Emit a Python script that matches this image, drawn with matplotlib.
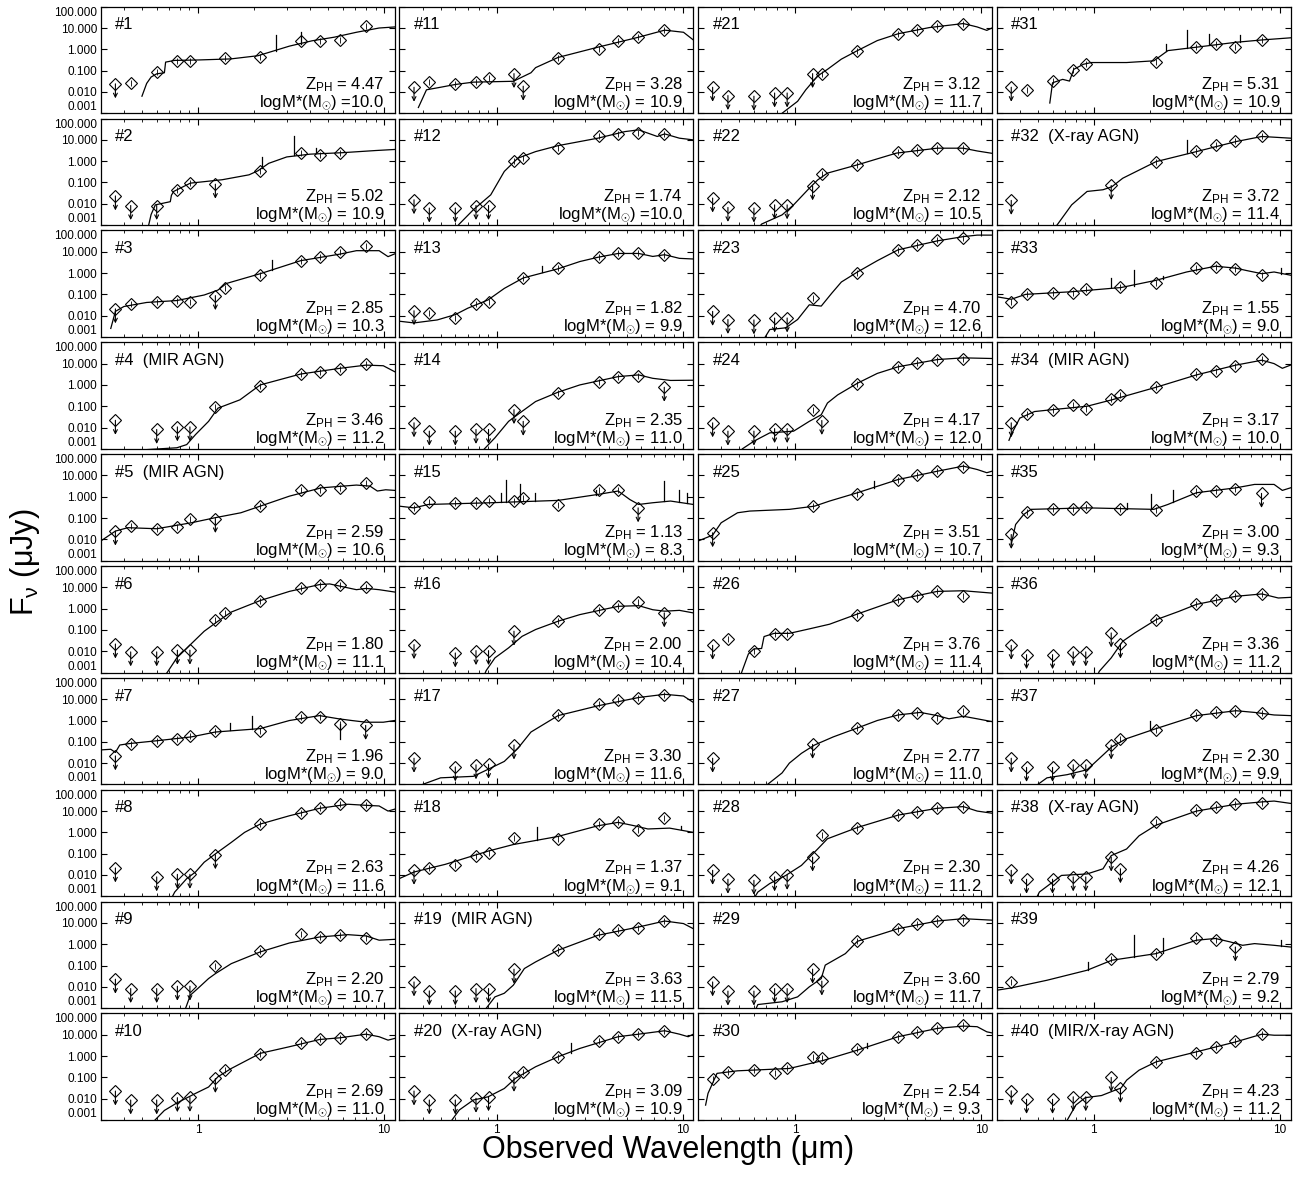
import numpy as np
import matplotlib
matplotlib.use("Agg")
import matplotlib.pyplot as plt
from matplotlib.ticker import NullFormatter, LogLocator

plt.rcParams.update({"font.family": ["Liberation Sans", "DejaVu Sans"], "mathtext.fontset": "custom",
    "mathtext.rm": "Liberation Sans", "mathtext.it": "Liberation Sans:italic",
    "mathtext.bf": "Liberation Sans:bold", "axes.linewidth": 0.9})

# filter wavelengths (micron): U, F435W, F606W, F775W, F850LP, F125W, F140W, Ks, IRAC 1-4
FILT_WL = [0.36, 0.435, 0.60, 0.775, 0.905, 1.24, 1.39, 2.15, 3.56, 4.51, 5.76, 7.96]
N = None

# log10 flux (uJy) per filter, panels #1..#40
PHOT_LOGF = [
    [-1.62, -1.57, -1.06, -0.54, -0.54, N, -0.43, -0.35, 0.41, 0.38, 0.44, 1.10],
    [-1.63, -2.08, -2.08, -1.34, -1.03, -1.08, N, -0.44, 0.37, 0.30, 0.37, N],
    [-1.68, -1.46, -1.38, -1.29, -1.38, -1.06, -0.68, -0.08, 0.55, 0.77, 0.97, 1.25],
    [-1.66, N, -2.09, -1.97, -1.97, -1.04, N, -0.03, 0.50, 0.59, 0.74, 0.96],
    [-1.61, -1.38, -1.53, -1.42, -1.06, -1.02, N, -0.44, 0.31, 0.34, 0.39, 0.66],
    [-1.66, -2.03, -2.03, -1.95, -1.95, -0.52, -0.20, 0.34, 0.97, 1.09, 1.09, 1.02],
    [-1.66, -1.08, -0.95, -0.88, -0.72, -0.49, N, -0.51, 0.18, 0.18, -0.15, -0.23],
    [-1.67, N, -2.09, -1.97, -1.97, -1.05, N, 0.39, 0.93, 1.13, 1.32, 1.27],
    [-1.64, -2.08, -2.08, -1.97, -1.97, -1.03, N, -0.33, 0.47, 0.34, 0.42, 0.31],
    [-1.64, -2.06, -2.06, -1.95, -1.94, -1.05, -0.63, 0.09, 0.63, 0.80, 0.86, 1.02],
    [-1.78, -1.54, -1.65, -1.54, -1.33, -1.14, -1.73, -0.41, 0.00, 0.41, 0.60, 0.92],
    [-1.81, -2.20, -2.20, -2.08, -2.08, 0.03, 0.14, 0.61, 1.16, 1.28, 1.34, 1.28],
    [-1.77, -1.88, -2.11, -1.45, -1.34, N, -0.23, 0.23, 0.77, 0.92, 0.92, 0.86],
    [-1.78, -2.17, -2.17, -2.09, -2.09, -1.16, -1.71, -0.36, 0.16, 0.36, 0.43, -0.11],
    [-0.52, -0.25, -0.28, -0.28, -0.20, -0.20, -0.05, -0.39, 0.31, 0.34, -0.52, N],
    [-1.69, N, -2.08, -1.97, -1.97, -1.06, N, -0.59, -0.08, 0.11, 0.31, -0.20],
    [-1.77, N, -2.18, -2.08, -2.05, -1.15, N, 0.28, 0.77, 0.95, 1.08, 1.20],
    [-1.78, -1.66, -1.52, -1.13, -0.98, -0.26, N, -0.31, 0.39, 0.47, 0.11, 0.67],
    [-1.77, -2.19, -2.19, -2.08, -2.08, -1.17, N, -0.25, 0.47, 0.66, 0.78, 1.09],
    [-1.64, -2.06, -2.06, -1.98, -1.91, -1.00, -0.73, -0.06, 0.70, 0.91, 1.06, 1.19],
    [-1.78, -2.17, -2.20, -2.05, -2.05, -1.14, -1.17, -0.06, 0.70, 0.89, 1.08, 1.21],
    [-1.73, -2.17, -2.20, -2.05, -2.05, -1.16, -0.61, -0.17, 0.41, 0.53, 0.61, 0.61],
    [-1.80, -2.18, -2.20, -2.11, -2.11, -1.18, N, 0.00, 1.09, 1.32, 1.54, 1.66],
    [-1.78, -2.17, -2.17, -2.05, -2.05, -1.16, -1.67, 0.05, 0.85, 1.01, 1.16, 1.21],
    [-1.69, N, N, N, N, -0.44, N, 0.14, 0.81, 1.00, 1.20, 1.39],
    [-1.72, -1.42, -2.00, -1.17, -1.17, N, N, -0.28, 0.42, 0.58, 0.81, 0.58],
    [-1.77, N, N, N, N, -1.12, N, -0.35, 0.26, 0.35, 0.12, 0.46],
    [-1.78, -2.20, -2.25, -2.09, -2.02, -1.16, -0.12, 0.20, 0.82, 0.96, 1.16, 1.21],
    [-1.77, -2.20, -2.20, -2.08, -2.08, -1.17, -1.73, 0.14, 0.73, 0.94, 1.09, 1.16],
    [-1.08, -0.73, -0.63, -0.77, -0.58, -0.03, -0.11, 0.33, 0.91, 1.11, 1.33, 1.48],
    [-1.78, -1.89, -1.49, -0.98, -0.70, N, N, -0.59, 0.13, 0.25, 0.10, 0.44],
    [-1.84, N, N, N, N, -1.14, N, -0.02, 0.48, 0.77, 0.95, 1.20],
    [-1.34, -1.00, -0.92, -0.92, -0.77, N, -0.65, -0.46, 0.25, 0.28, 0.17, -0.08],
    [-1.78, -1.36, -1.16, -0.96, -1.12, -0.65, -0.47, -0.11, 0.50, 0.65, 0.90, 1.21],
    [-1.77, -0.70, -0.59, -0.55, -0.47, N, -0.59, -0.64, 0.27, 0.27, 0.38, 0.16],
    [-1.72, -2.16, -2.16, -2.03, -2.03, -1.14, -1.66, -0.52, 0.23, 0.42, 0.61, 0.69],
    [-1.77, -2.20, -2.20, -2.08, -2.08, -1.15, -0.88, -0.46, 0.26, 0.38, 0.43, 0.35],
    [-1.78, -2.20, -2.20, -2.09, -2.09, -1.16, -1.71, 0.47, 1.04, 1.21, 1.32, 1.36],
    [-1.77, N, N, N, N, -0.67, N, -0.48, 0.27, 0.22, -0.13, N],
    [-1.63, -2.03, -2.03, -1.91, -1.91, -1.00, -1.52, -0.27, 0.16, 0.44, 0.72, 1.06],
]

# filter indices that are upper limits
UPLIM = [
    [0], [0, 1, 2, 5], [0, 5], [0, 2, 3, 4], [0, 5], [0, 1, 2, 3, 4], [0, 11], [0, 2, 3, 4, 5],
    [0, 1, 2, 3, 4], [0, 1, 2, 3, 4, 5],
    [0, 5, 6], [0, 1, 2, 3, 4], [0], [0, 1, 2, 3, 4, 5, 6, 11], [10], [0, 2, 3, 4, 5, 11],
    [0, 2, 3, 4, 5], [0], [0, 1, 2, 3, 4, 5], [0, 1, 2, 3, 4, 5],
    [0, 1, 2, 3, 4, 5], [0, 1, 2, 3, 4, 5], [0, 1, 2, 3, 4], [0, 1, 2, 3, 4, 6], [0], [0],
    [0, 5], [0, 1, 2, 3, 4, 5], [0, 1, 2, 3, 4, 5, 6], [],
    [0], [0, 5], [], [0], [0, 11], [0, 1, 2, 3, 4, 5, 6], [0, 1, 2, 3, 4, 5],
    [0, 1, 2, 3, 4, 5, 6], [10], [0, 1, 2, 3, 4, 5, 6],
]

# large error bars: (panel, filter index, log10 lower end)
BIG_ERR = [(7, 10, -0.85)]

# best-fit SED, wavelength (micron) and log10 flux (uJy)
SED_WL = [
    [0.50, 0.53, 0.56, 0.60, 0.66, 0.67, 0.75, 1.0, 1.5, 2.1, 3.1, 4.1, 5.4, 7.1, 9.4, 11.4],
    [0.54, 0.56, 0.59, 0.71, 0.72, 0.74, 0.91, 1.35, 1.88, 2.1, 2.4, 3.0, 4.0, 6.0, 9.0, 11.4],
    [0.34, 0.36, 0.40, 0.53, 0.77, 1.08, 1.28, 1.42, 2.16, 3.56, 5.8, 7.1, 9.4, 10.5, 11.4],
    [0.50, 0.77, 0.87, 0.97, 1.14, 1.28, 1.68, 2.16, 3.56, 5.8, 8.0, 9.9, 11.4],
    [0.30, 0.36, 0.42, 0.60, 0.92, 1.24, 1.7, 2.16, 3.1, 4.6, 7.1, 8.4, 9.2, 10.2, 11.4],
    [0.67, 0.69, 0.77, 0.91, 1.08, 1.28, 1.51, 2.16, 3.1, 4.5, 5.1, 7.1, 8.0, 9.4, 11.4],
    [0.30, 0.34, 0.36, 0.38, 0.43, 0.60, 0.92, 1.24, 2.16, 3.1, 4.5, 5.7, 6.7, 8.0, 9.9, 11.4],
    [0.72, 0.75, 0.87, 0.97, 1.08, 1.24, 1.51, 1.78, 2.16, 3.1, 4.5, 6.4, 8.0, 9.4, 10.5, 11.4],
    [0.85, 0.86, 0.91, 1.02, 1.14, 1.24, 1.51, 2.16, 3.1, 4.5, 6.4, 8.0, 9.4, 11.4],
    [0.58, 0.66, 0.77, 0.97, 1.14, 1.28, 1.51, 2.16, 3.1, 4.5, 5.8, 8.0, 9.4, 10.5, 11.4],
    [0.38, 0.42, 0.50, 0.60, 0.75, 1.23, 1.53, 1.62, 2.14, 3.5, 5.8, 8.0, 10.1, 11.4],
    [0.61, 0.63, 0.75, 0.93, 1.1, 1.3, 1.62, 2.14, 3.5, 4.9, 5.8, 7.3, 8.0, 9.6, 11.4],
    [0.30, 0.36, 0.48, 0.60, 0.70, 0.90, 1.1, 1.39, 2.14, 2.8, 3.5, 4.5, 5.8, 6.9, 8.0, 9.6, 11.4],
    [0.84, 0.86, 0.98, 1.16, 1.37, 1.62, 2.14, 2.8, 4.5, 5.8, 6.9, 8.6, 11.4],
    [0.30, 0.36, 0.43, 0.93, 2.14, 3.5, 4.5, 5.2, 5.8, 6.9, 8.6, 11.4],
    [0.86, 0.88, 0.98, 1.16, 1.37, 1.62, 2.14, 2.8, 4.5, 5.8, 6.9, 8.0, 9.6, 11.4],
    [0.38, 0.40, 0.50, 0.75, 0.93, 1.1, 1.3, 1.53, 2.14, 3.5, 5.8, 8.0, 10.1, 11.4],
    [0.30, 0.36, 0.53, 0.90, 1.23, 2.14, 3.5, 4.5, 5.5, 6.5, 8.5, 11.4],
    [0.86, 0.88, 0.98, 1.1, 1.23, 1.41, 1.62, 2.14, 3.5, 5.8, 8.0, 10.1, 11.4],
    [0.57, 0.63, 0.75, 0.90, 1.1, 1.26, 1.62, 2.14, 2.8, 4.5, 5.8, 8.0, 9.6, 10.7, 11.4],
    [0.83, 0.85, 1.03, 1.14, 1.32, 1.49, 1.77, 2.16, 2.76, 3.57, 5.25, 8.0, 9.5, 10.7, 11.4],
    [0.64, 0.66, 0.85, 0.98, 1.19, 1.32, 1.49, 2.16, 3.5, 5.8, 8.0, 9.5, 11.4],
    [0.68, 0.69, 0.73, 0.89, 1.03, 1.19, 1.38, 1.57, 1.77, 2.16, 2.76, 3.57, 5.8, 8.0, 9.5, 11.4],
    [0.51, 0.52, 0.60, 0.73, 0.98, 1.19, 1.38, 1.49, 1.69, 2.16, 2.76, 3.57, 5.8, 8.0, 11.4],
    [0.30, 0.36, 0.40, 0.49, 0.57, 0.93, 1.27, 1.53, 2.16, 3.57, 5.8, 8.0, 9.5, 10.7, 11.4],
    [0.51, 0.52, 0.56, 0.60, 0.66, 0.68, 0.77, 0.93, 1.19, 1.53, 2.16, 3.57, 5.8, 8.0, 11.4],
    [0.69, 0.71, 0.85, 0.93, 1.08, 1.27, 1.6, 2.16, 2.76, 3.57, 4.7, 5.8, 6.7, 8.0, 9.5, 11.4],
    [0.60, 0.63, 0.73, 0.89, 1.08, 1.32, 1.49, 2.16, 3.57, 5.8, 8.0, 9.5, 11.4],
    [0.60, 0.61, 0.63, 0.85, 1.03, 1.19, 1.38, 1.45, 1.86, 2.16, 2.76, 3.57, 5.8, 8.0, 11.4],
    [0.33, 0.34, 0.38, 0.49, 0.93, 1.42, 2.16, 3.57, 5.8, 8.0, 9.5, 10.7, 11.4],
    [0.58, 0.60, 0.68, 0.74, 0.78, 0.88, 0.97, 1.5, 2.1, 2.5, 3.56, 5.8, 8.0, 11.4],
    [0.62, 0.64, 0.76, 0.92, 1.12, 1.25, 1.43, 2.16, 3.56, 5.8, 8.0, 11.4],
    [0.30, 0.36, 0.43, 0.75, 1.4, 2.16, 3.15, 4.5, 5.8, 6.6, 8.0, 9.3, 11.4],
    [0.35, 0.36, 0.40, 0.48, 0.60, 0.92, 1.25, 2.16, 3.56, 5.8, 8.0, 9.3, 10.3, 11.4],
    [0.36, 0.38, 0.42, 0.46, 0.92, 2.1, 2.5, 3.56, 5.8, 7.3, 9.3, 10.3, 11.4],
    [1.05, 1.07, 1.24, 1.43, 1.66, 2.16, 2.86, 3.56, 5.8, 8.0, 9.8, 11.4],
    [0.48, 0.50, 0.56, 0.72, 0.92, 1.12, 1.25, 1.5, 2.16, 3.56, 5.8, 7.3, 9.3, 11.4],
    [0.49, 0.51, 0.67, 0.92, 1.12, 1.24, 1.5, 1.75, 2.16, 3.56, 5.8, 8.0, 9.3, 11.4],
    [0.30, 0.36, 0.56, 0.92, 1.25, 2.16, 3.56, 4.5, 5.4, 6.3, 7.3, 9.3, 11.4],
    [0.70, 0.72, 0.80, 0.90, 1.1, 1.3, 1.4, 1.5, 1.75, 2.16, 3.56, 5.8, 8.0, 9.3, 11.4],
]
SED_LOGF = [
    [-2.2, -1.6, -1.3, -1.15, -1.1, -0.6, -0.52, -0.5, -0.45, -0.3, 0.15, 0.4, 0.57, 0.8, 1.0, 1.05],
    [-3.1, -2.5, -2.05, -1.9, -1.6, -1.42, -1.03, -0.87, -0.64, -0.45, -0.1, 0.2, 0.33, 0.4, 0.5, 0.55],
    [-2.6, -1.8, -1.57, -1.38, -1.29, -1.03, -0.8, -0.49, -0.03, 0.58, 0.89, 1.05, 1.05, 0.77, 0.9],
    [-3.05, -2.95, -2.8, -2.33, -1.71, -1.09, -0.7, 0.0, 0.51, 0.78, 0.93, 0.9, 0.62],
    [-2.08, -1.61, -1.45, -1.5, -1.22, -0.98, -0.75, -0.44, 0.03, 0.42, 0.55, 0.5, 0.27, 0.33, 0.3],
    [-3.1, -2.94, -2.31, -1.69, -1.06, -0.59, -0.16, 0.38, 0.81, 1.13, 1.16, 0.89, 0.95, 0.89, 0.78],
    [-1.38, -1.35, -1.5, -1.15, -1.08, -0.95, -0.77, -0.54, -0.38, 0.0, 0.23, 0.08, 0.0, -0.08, -0.08, 0.0],
    [-3.1, -2.8, -2.17, -1.86, -1.4, -1.01, -0.47, 0.0, 0.39, 0.78, 1.13, 1.32, 1.27, 1.24, 1.0, 1.09],
    [-3.1, -2.98, -2.39, -2.0, -1.61, -1.38, -0.91, -0.36, 0.06, 0.34, 0.45, 0.39, 0.19, 0.23],
    [-3.05, -2.55, -2.2, -1.75, -1.45, -0.97, -0.58, 0.13, 0.44, 0.78, 0.86, 1.03, 0.91, 0.75, 0.83],
    [-2.73, -1.9, -1.78, -1.65, -1.54, -1.5, -1.1, -0.86, -0.38, 0.1, 0.57, 0.9, 0.8, 0.44],
    [-3.1, -2.95, -2.28, -1.58, -0.48, 0.14, 0.45, 0.73, 1.08, 1.39, 1.47, 1.16, 1.28, 1.08, 1.0],
    [-2.26, -2.34, -2.2, -1.95, -1.65, -1.26, -0.72, -0.23, 0.2, 0.54, 0.74, 0.92, 0.92, 0.78, 0.86, 0.69, 0.66],
    [-3.1, -3.0, -2.48, -1.71, -1.24, -0.78, -0.34, 0.0, 0.39, 0.47, 0.31, 0.21, 0.22],
    [-0.44, -0.52, -0.36, -0.28, -0.17, 0.11, 0.27, -0.13, -0.36, -0.28, -0.2, -0.36],
    [-3.1, -2.9, -2.31, -1.84, -1.3, -0.98, -0.59, -0.28, 0.11, 0.14, -0.05, -0.12, -0.08, -0.2],
    [-3.1, -3.0, -2.69, -2.62, -2.23, -1.92, -1.31, -0.54, 0.23, 0.69, 1.08, 1.23, 1.15, 0.85],
    [-2.17, -1.86, -1.5, -0.88, -0.57, -0.19, 0.31, 0.47, 0.31, 0.16, 0.2, 0.0],
    [-3.1, -3.0, -2.47, -2.3, -1.92, -1.14, -0.83, -0.28, 0.42, 0.81, 1.09, 0.97, 0.73],
    [-3.05, -2.53, -2.06, -1.91, -1.52, -1.05, -0.5, -0.03, 0.36, 0.91, 1.03, 1.19, 1.03, 0.91, 1.03],
    [-3.1, -3.0, -2.44, -1.9, -1.25, -0.94, -0.46, -0.06, 0.41, 0.73, 1.02, 1.21, 1.05, 0.89, 1.0],
    [-3.1, -2.95, -2.52, -2.05, -1.27, -0.88, -0.56, -0.17, 0.38, 0.61, 0.61, 0.48, 0.37],
    [-3.1, -3.0, -2.65, -2.57, -2.18, -1.49, -1.55, -0.95, -0.42, 0.05, 0.58, 1.09, 1.51, 1.71, 1.78, 1.78],
    [-3.1, -3.0, -2.64, -2.25, -2.17, -1.71, -1.4, -0.85, -0.47, 0.08, 0.54, 0.85, 1.19, 1.27, 1.24],
    [-2.08, -1.8, -1.22, -0.75, -0.67, -0.59, -0.44, -0.2, 0.19, 0.81, 1.2, 1.44, 1.28, 1.13, 1.2],
    [-3.1, -2.9, -2.13, -1.89, -1.87, -1.31, -1.16, -1.16, -0.95, -0.73, -0.25, 0.42, 0.81, 0.84, 0.73],
    [-3.1, -3.0, -2.46, -2.0, -1.54, -1.15, -0.77, -0.35, 0.0, 0.26, 0.38, 0.23, 0.08, 0.2, 0.08, -0.05],
    [-3.1, -2.8, -2.4, -2.02, -1.55, -0.78, -0.3, 0.23, 0.81, 1.13, 1.21, 1.0, 0.9],
    [-3.2, -3.1, -2.83, -2.7, -2.47, -2.0, -1.61, -0.98, -0.44, 0.14, 0.42, 0.73, 1.09, 1.2, 1.13],
    [-2.3, -1.75, -0.81, -0.69, -0.58, -0.2, 0.28, 0.91, 1.3, 1.41, 1.38, 1.14, 1.09],
    [-2.52, -1.57, -1.41, -1.49, -0.94, -0.7, -0.62, -0.62, -0.54, -0.06, 0.1, 0.33, 0.44, 0.54],
    [-3.1, -2.95, -2.05, -1.42, -1.34, -1.2, -0.8, -0.02, 0.45, 0.92, 1.16, 1.08],
    [-1.11, -1.23, -1.0, -0.88, -0.68, -0.34, 0.05, 0.32, 0.23, 0.12, -0.03, 0.05, -0.1],
    [-2.6, -2.33, -1.56, -1.25, -1.16, -1.0, -0.7, -0.11, 0.47, 0.93, 1.16, 1.0, 0.78, 0.93],
    [-2.23, -1.3, -0.83, -0.59, -0.52, -0.59, -0.36, 0.19, 0.42, 0.58, 0.58, 0.3, 0.42],
    [-3.1, -2.94, -2.31, -1.53, -1.14, -0.52, -0.13, 0.2, 0.58, 0.69, 0.5, 0.53],
    [-3.1, -3.0, -2.69, -2.54, -2.31, -1.62, -1.23, -0.85, -0.38, 0.23, 0.46, 0.38, 0.26, 0.23],
    [-3.1, -2.8, -2.02, -1.95, -1.71, -1.09, -0.78, -0.16, 0.34, 1.0, 1.32, 1.43, 1.47, 1.36],
    [-2.16, -2.05, -1.69, -1.22, -0.75, -0.44, 0.19, 0.27, 0.11, -0.05, 0.03, -0.05, -0.13],
    [-3.1, -3.0, -2.3, -1.95, -1.85, -1.6, -1.5, -1.13, -0.66, -0.27, 0.2, 0.67, 1.03, 0.98, 0.98],
]

# emission lines: (wavelength, log10 base, log10 peak)
LINES = [
    [(2.63, -0.1, 0.65), (3.56, 0.25, 0.8)], [(2.2, -0.3, 0.2), (3.28, 0.3, 1.16), (4.3, 0.4, 0.6)],
    [(2.5, 0.15, 0.6)], [], [], [], [(1.48, -0.45, -0.11), (1.96, -0.4, 0.23)], [], [], [],
    [], [], [(1.76, 0.05, 0.35)], [],
    [(1.06, -0.25, 0.2), (1.13, -0.25, 0.77), (1.33, -0.22, 0.58), (1.6, -0.2, 0.2), (3.4, 0.1, 0.3),
     (7.9, -0.2, 0.73), (9.6, -0.25, 0.3), (10.6, -0.3, 0.2)],
    [], [], [(1.64, -0.35, 0.23), (9.8, 0.15, 0.28)], [], [(2.5, 0.15, 0.6)],
    [], [], [], [], [(2.65, 0.4, 0.73)], [], [], [], [], [(2.44, 0.4, 0.63)],
    [(3.15, 0.05, 0.92), (4.17, 0.25, 0.73), (6.1, 0.35, 0.68), (2.45, -0.1, 0.25)], [(3.15, 0.4, 1.0)],
    [(1.24, -0.65, -0.23), (1.64, -0.6, 0.12), (2.35, -0.3, -0.15), (10.1, -0.05, 0.23)], [],
    [(1.5, -0.55, -0.28), (2.02, -0.55, 0.11), (2.65, -0.25, 0.34)], [], [(2.0, -0.45, -0.03)], [],
    [(0.93, -1.2, -0.81), (1.64, -0.6, 0.42), (2.35, -0.4, 0.27), (10.1, -0.1, 0.19)], [],
]

Z_PH = [4.47, 5.02, 2.85, 3.46, 2.59, 1.80, 1.96, 2.63, 2.20, 2.69,
        3.28, 1.74, 1.82, 2.35, 1.13, 2.00, 3.30, 1.37, 3.63, 3.09,
        3.12, 2.12, 4.70, 4.17, 3.51, 3.76, 2.77, 2.30, 3.60, 2.54,
        5.31, 3.72, 1.55, 3.17, 3.00, 3.36, 2.30, 4.26, 2.79, 4.23]
LOG_MSTAR = [10.0, 10.9, 10.3, 11.2, 10.6, 11.1, 9.0, 11.6, 10.7, 11.0,
             10.9, 10.0, 9.9, 11.0, 8.3, 10.4, 11.6, 9.1, 11.5, 10.9,
             11.7, 10.5, 12.6, 12.0, 10.7, 11.4, 11.0, 11.2, 11.7, 9.3,
             10.9, 11.4, 9.0, 10.0, 9.3, 11.2, 9.9, 12.1, 9.2, 11.2]
AGN_TAG = {4: "MIR AGN", 5: "MIR AGN", 19: "MIR AGN", 20: "X-ray AGN", 32: "X-ray AGN",
           34: "MIR AGN", 38: "X-ray AGN", 40: "MIR/X-ray AGN"}
NOSPACE_EQ = [1, 12]

YTICKS = [0.001, 0.01, 0.1, 1, 10, 100]
YTICKLABELS = ["0.001", "0.010", "0.100", "1.000", "10.000", "100.000"]

fig, axes = plt.subplots(10, 4, figsize=(13.09, 11.77), dpi=100, sharex=True, sharey=True)
fig.subplots_adjust(left=0.0769, right=0.9859, top=0.9943, bottom=0.0484, wspace=0.0156, hspace=0.05)

for k in range(40):
    n = k + 1
    ax = axes[k % 10, k // 10]
    ax.set_xscale("log"); ax.set_yscale("log")
    ax.plot(SED_WL[k], 10.0 ** np.array(SED_LOGF[k]), color="k", lw=0.9, zorder=2)
    for wl, lo, hi in LINES[k]:
        ax.plot([wl, wl], [10 ** lo, 10 ** hi], color="k", lw=0.9, zorder=2)
    for j, (wl, v) in enumerate(zip(FILT_WL, PHOT_LOGF[k])):
        if v is None:
            continue
        f = 10.0 ** v
        ax.plot(wl, f, marker="D", ms=6.5, mfc="none", mec="k", mew=0.8, zorder=3)
        if j in UPLIM[k]:
            ax.annotate("", xy=(wl, f * 10 ** -0.68), xytext=(wl, f),
                        arrowprops=dict(arrowstyle="->", lw=0.8, color="k", shrinkA=0, shrinkB=0,
                                        mutation_scale=7), zorder=3)
        else:
            ax.plot(wl, f, marker="|", ms=4.5, color="k", mew=0.6, zorder=3)
    for pn, j, lo in BIG_ERR:
        if pn == n:
            ax.plot([FILT_WL[j]] * 2, [10 ** lo, 10 ** PHOT_LOGF[k][j]], color="k", lw=0.9, zorder=3)

    ax.set_xlim(0.30, 11.4); ax.set_ylim(0.001, 100)
    ax.set_yticks(YTICKS, labels=YTICKLABELS)
    ax.set_xticks([1, 10], labels=["1", "10"])
    ax.xaxis.set_minor_locator(LogLocator(base=10, subs=np.arange(2, 10)))
    ax.xaxis.set_minor_formatter(NullFormatter())
    ax.yaxis.set_minor_locator(LogLocator(base=10, subs=np.arange(2, 10)))
    ax.yaxis.set_minor_formatter(NullFormatter())
    ax.tick_params(which="both", direction="in", top=True, right=True, labelsize=8.5, pad=2.5)
    ax.tick_params(which="major", length=4.5, width=0.8)
    ax.tick_params(which="minor", length=2.2, width=0.6)

    label = f"#{n}" + (f"  ({AGN_TAG[n]})" if n in AGN_TAG else "")
    ax.text(0.05, 0.83, label, transform=ax.transAxes, fontsize=12, va="center", ha="left")
    ax.text(0.965, 0.265, rf"Z$_{{\rm PH}}$ = {Z_PH[k]:.2f}", transform=ax.transAxes,
            fontsize=12, va="center", ha="right")
    eq = "=" if n in NOSPACE_EQ else "= "
    ax.text(0.965, 0.095, rf"logM*(M$_{{\odot}}$) {eq}{LOG_MSTAR[k]:.1f}", transform=ax.transAxes,
            fontsize=12, va="center", ha="right")

for ax in axes[:, 0]:
    tl = ax.get_yticklabels()
    tl[0].set_va("bottom"); tl[-1].set_va("top")

fig.text(0.019, 0.522, r"F$_{\mathrm{\nu}}$ (μJy)", rotation=90, fontsize=22, ha="center", va="center")
fig.text(0.510, 0.023, "Observed Wavelength (μm)", fontsize=22, ha="center", va="center")

fig.savefig("out.png", dpi=100)
